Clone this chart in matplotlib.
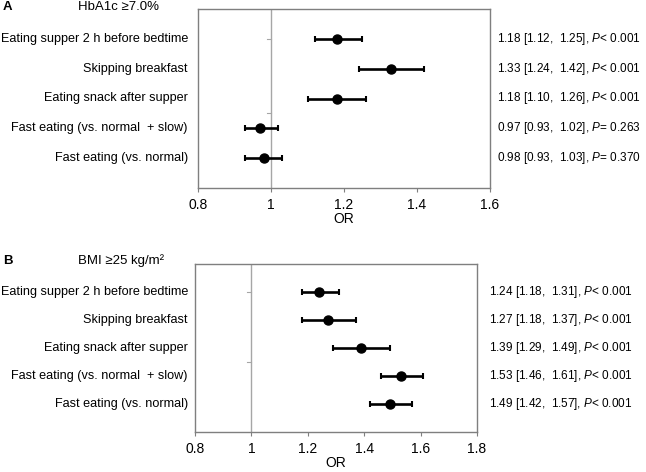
import matplotlib
matplotlib.use('Agg')
import matplotlib.pyplot as plt
import matplotlib.transforms as mtransforms

plt.rcParams['font.family'] = ['Liberation Sans', 'DejaVu Sans']
plt.rcParams['mathtext.fontset'] = 'custom'
plt.rcParams['mathtext.rm'] = 'Liberation Sans'
plt.rcParams['mathtext.it'] = 'Liberation Sans:italic'

# data
labels = ['Eating supper 2 h before bedtime', 'Skipping breakfast',
          'Eating snack after supper', 'Fast eating (vs. normal  + slow)',
          'Fast eating (vs. normal)']
rows = [5, 4, 3, 2, 1]

or_a = [1.18, 1.33, 1.18, 0.97, 0.98]
lo_a = [1.12, 1.24, 1.10, 0.93, 0.93]
hi_a = [1.25, 1.42, 1.26, 1.02, 1.03]
p_a = ['< 0.001', '< 0.001', '< 0.001', '= 0.263', '= 0.370']

or_b = [1.24, 1.27, 1.39, 1.53, 1.49]
lo_b = [1.18, 1.18, 1.29, 1.46, 1.42]
hi_b = [1.31, 1.37, 1.49, 1.61, 1.57]
p_b = ['< 0.001'] * 5

W, H = 646, 472
fig = plt.figure(figsize=(W / 100, H / 100), dpi=100)
fig.patch.set_facecolor('white')

spine_gray = '#7f7f7f'
line_gray = '#a6a6a6'
fs_lab = 9.1
fs_tick = 10
fs_ann = 8.5


def panel(box, ors, los, his, ps, xmax, letter, title, title_y, text_x):
    l, t, r, b = box
    ax = fig.add_axes([l / W, 1 - b / H, (r - l) / W, (b - t) / H])
    ax.set_xlim(0.8, xmax)
    ax.set_ylim(0, 6)
    for s in ax.spines.values():
        s.set_color(spine_gray)
        s.set_linewidth(1.0)
    ax.set_yticks([])
    ticks = [round(0.8 + 0.2 * i, 1) for i in range(int(round((xmax - 0.8) / 0.2)) + 1)]
    ax.set_xticks(ticks)
    ax.set_xticklabels(['1' if v == 1 else f'{v:g}' for v in ticks], fontsize=fs_tick)
    ax.tick_params(axis='x', direction='out', length=3, color=spine_gray, pad=4)
    ax.set_xlabel('OR', fontsize=fs_tick, labelpad=0)

    # reference line with its own small ticks
    ax.axvline(1.0, color=line_gray, lw=1.0, zorder=1)
    for yv in [2.5, 5]:
        ax.plot([1.0 - 0.012 * (xmax - 0.8) / 0.8, 1.0], [yv, yv], color=line_gray, lw=0.8, zorder=1)

    xerr = [[o - lo for o, lo in zip(ors, los)], [hi - o for o, hi in zip(ors, his)]]
    ax.errorbar(ors, rows, xerr=xerr, fmt='o', color='black', ms=6.5,
                elinewidth=1.9, capsize=2.5, capthick=1.5, zorder=3)

    tr = mtransforms.blended_transform_factory(fig.transFigure, ax.transData)
    for y, lab, o, lo, hi, p in zip(rows, labels, ors, los, his, ps):
        ax.text(188 / W, y, lab, transform=tr, ha='right', va='center', fontsize=fs_lab)
        ax.text(text_x / W, y, f'{o:.2f} [{lo:.2f},  {hi:.2f}], $\\mathit{{P}}${p[0]} {p[2:]}',
                transform=tr, ha='left', va='center', fontsize=fs_ann)

    fig.text(3 / W, 1 - title_y / H, letter, fontsize=9.5, fontweight='bold',
             ha='left', va='center')
    fig.text(78 / W, 1 - title_y / H, title, fontsize=9.5, ha='left', va='center')
    return ax


panel((198, 9, 490, 188), or_a, lo_a, hi_a, p_a, 1.6, 'A', 'HbA1c ≥7.0%', 7, 497)
panel((195, 264, 477, 432), or_b, lo_b, hi_b, p_b, 1.8, 'B', 'BMI ≥25 kg/m²', 261, 489)

fig.savefig('out.png', dpi=100, facecolor='white')
